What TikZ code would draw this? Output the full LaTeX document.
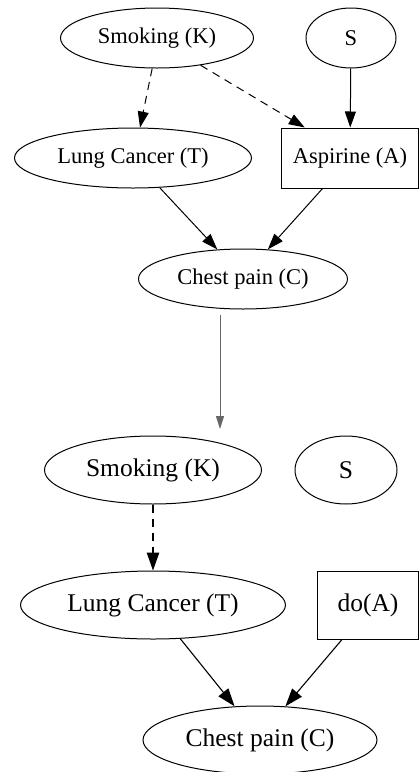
\documentclass[tikz,border=0pt]{standalone}
\usepackage{fontspec}
\setmainfont{Liberation Serif}
\usepackage{tikz}
\usetikzlibrary{shapes.geometric, arrows.meta, positioning}

\begin{document}
\begin{tikzpicture}[
    x=1pt, y=1pt,
    var/.style={ellipse, draw, line width=1pt, inner sep=0pt},
    act/.style={rectangle, draw, line width=1pt, inner sep=0pt},
    edge/.style={line width=1pt, -{Triangle[length=16pt,width=11pt]}},
    edgeb/.style={line width=1.1pt, -{Triangle[length=18pt,width=12.5pt]}},
    latent/.style={dash pattern=on 8pt off 6pt},
    top/.style={font=\fontsize{22.5}{26}\selectfont},
    bot/.style={font=\fontsize{25.5}{30}\selectfont}
]
    \useasboundingbox (0,0) rectangle (419,-772);

    % before the intervention
    \node[var, top, minimum width=193pt, minimum height=60pt] (smk) at (157,-38) {Smoking (K)};
    \node[var, top, minimum width=90pt, minimum height=60pt] (s) at (351,-38) {S};
    \node[var, top, minimum width=237pt, minimum height=60pt] (lung) at (133,-158) {Lung Cancer (T)};
    \node[act, top, minimum width=137pt, minimum height=60pt] (asp) at (350,-158) {Aspirine (A)};
    \node[var, top, minimum width=209pt, minimum height=60pt] (chest) at (243,-279) {Chest pain (C)};

    \draw[edge, latent] (smk.-99) -- (lung.77);
    \draw[edge, latent] (smk.-32) -- (asp.146);
    \draw[edge] (s) -- (asp);
    \draw[edge] (lung.-48) -- (chest.131);
    \draw[edge] (asp.-132) -- (chest.50);

    % step between the two graphs
    \coordinate (gtop) at (220,-315);
    \coordinate (gbot) at (220,-429);
    \draw[line width=1pt, black!60, -{Triangle[length=13pt,width=8pt]}] (gtop) -- (gbot);

    % after do(A)
    \node[var, bot, minimum width=217pt, minimum height=68pt] (smk2) at (153,-470) {Smoking (K)};
    \node[var, bot, minimum width=102pt, minimum height=68pt] (s2) at (346,-470) {S};
    \node[var, bot, minimum width=265pt, minimum height=68pt] (lung2) at (153,-605) {Lung Cancer (T)};
    \node[act, bot, minimum width=101pt, minimum height=68pt] (doa) at (368,-605) {do(A)};
    \node[var, bot, minimum width=234pt, minimum height=68pt] (chest2) at (260,-740) {Chest pain (C)};

    \draw[edgeb, latent] (smk2) -- (lung2);
    \draw[edgeb] (lung2.-51) -- (chest2.127);
    \draw[edgeb] (doa.-127) -- (chest2.53);
\end{tikzpicture}
\end{document}
